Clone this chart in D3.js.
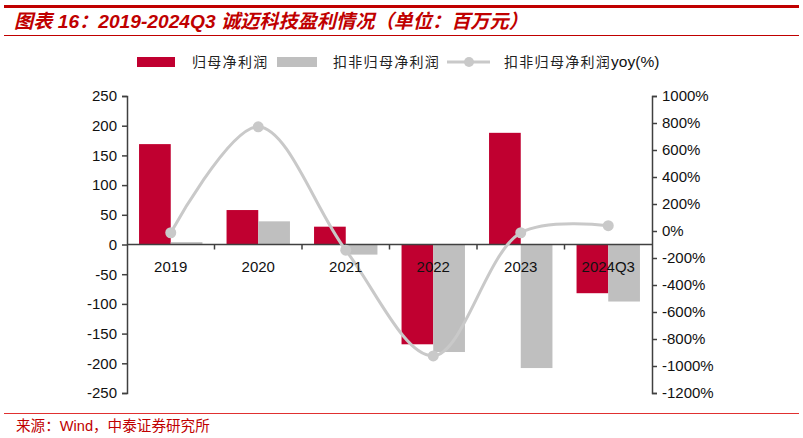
<!DOCTYPE html>
<html><head><meta charset="utf-8">
<script src="https://cdn.jsdelivr.net/npm/d3@7"></script>
<style>
html,body{margin:0;padding:0;background:#fff;}
svg{display:block;}
</style></head>
<body>
<svg id="c" width="803" height="438"></svg>
<script>
const categories = ["2019","2020","2021","2022","2023","2024Q3"];
const netProfit = [169, 58, 30, -168, 188, -82];
const deductedProfit = [4, 39, -17, -181, -208, -96];
const deductedYoy = [-13, 772, -142, -925, -13, 39];
const leftTicks = [250,200,150,100,50,0,-50,-100,-150,-200,-250];
const rightTicks = [1000,800,600,400,200,0,-200,-400,-600,-800,-1000,-1200];
const seriesNames = ["归母净利润","扣非归母净利润","扣非归母净利润yoy(%)"];
const titleText = "图表 16：2019-2024Q3 诚迈科技盈利情况（单位：百万元）";
const sourceText = "来源：Wind，中泰证券研究所";

const RED = "#c00030", GRAY = "#bfbfbf", LINE = "#c9c9c9", AXIS = "#404040", HEAD = "#c00000";
const svg = d3.select("#c");
const L = 127, R = 652, T = 96, B = 393;

const x = d3.scaleBand().domain(categories).range([L, R]).padding(0);
const inner = d3.scaleBand().domain(["a","b"]).range([0, x.bandwidth()]).paddingInner(0).paddingOuter(0.38);
const yL = d3.scaleLinear().domain([-250, 250]).range([B, T]);
const yR = d3.scaleLinear().domain([-1200, 1000]).range([B, T]);

// header lines
svg.append("rect").attr("x",4).attr("y",5).attr("width",795).attr("height",3).attr("fill",HEAD);
svg.append("line").attr("x1",4).attr("x2",799).attr("y1",35.5).attr("y2",35.5).attr("stroke",HEAD).attr("stroke-width",1);
svg.append("text").attr("x",14).attr("y",28)
  .attr("font-family","'Liberation Sans', Arial, 'Noto Sans CJK SC'")
  .attr("font-weight","bold").attr("font-style","italic").attr("font-size",19.2)
  .attr("fill",HEAD).text(titleText);

// footer
svg.append("line").attr("x1",4).attr("x2",799).attr("y1",413.5).attr("y2",413.5).attr("stroke","#e03030").attr("stroke-width",1.2);
svg.append("text").attr("x",16).attr("y",431)
  .attr("font-family","'Liberation Sans', Arial, 'Noto Sans CJK SC'")
  .attr("font-size",14.6).attr("fill",HEAD).text(sourceText);

// bars
const g = svg.append("g");
g.selectAll(".r").data(categories).join("rect")
  .attr("x", d => x(d) + inner("a")).attr("width", inner.bandwidth())
  .attr("y", (d,i) => yL(Math.max(0, netProfit[i])))
  .attr("height", (d,i) => Math.abs(yL(netProfit[i]) - yL(0)))
  .attr("fill", RED);
g.selectAll(".g").data(categories).join("rect")
  .attr("x", d => x(d) + inner("b")).attr("width", inner.bandwidth())
  .attr("y", (d,i) => yL(Math.max(0, deductedProfit[i])))
  .attr("height", (d,i) => Math.abs(yL(deductedProfit[i]) - yL(0)))
  .attr("fill", GRAY);

// axes
const font = "'Liberation Sans', Arial, sans-serif";
const axL = svg.append("g").attr("transform",`translate(${L},0)`)
  .call(d3.axisLeft(yL).tickValues(leftTicks).tickSize(5).tickPadding(5).tickFormat(d => String(d)));
const axR = svg.append("g").attr("transform",`translate(${R},0)`)
  .call(d3.axisRight(yR).tickValues(rightTicks).tickSize(5).tickPadding(5).tickFormat(d => String(d) + "%"));
[axL, axR].forEach(a => {
  a.select(".domain").attr("stroke", AXIS).attr("stroke-width",1.5);
  a.selectAll(".tick line").attr("stroke", AXIS).attr("stroke-width",1.5);
  a.selectAll("text").attr("font-family", font).attr("font-size",15).attr("fill","#111");
});

// zero line + category ticks
const zero = yL(0);
svg.append("line").attr("x1",L).attr("x2",R).attr("y1",zero).attr("y2",zero).attr("stroke",AXIS).attr("stroke-width",1.5);
svg.selectAll(".ct").data(categories.slice(1)).join("line")
  .attr("x1", d => x(d)).attr("x2", d => x(d)).attr("y1", zero).attr("y2", zero + 5)
  .attr("stroke", AXIS).attr("stroke-width",1.5);

// line
const pts = categories.map((c,i) => [x(c) + x.bandwidth()/2, yR(deductedYoy[i])]);
svg.append("path").attr("d", d3.line().curve(d3.curveCatmullRom.alpha(0.5))(pts))
  .attr("fill","none").attr("stroke",LINE).attr("stroke-width",3);
svg.selectAll(".dot").data(pts).join("circle")
  .attr("cx", d => d[0]).attr("cy", d => d[1]).attr("r",5.5).attr("fill",LINE);

// category labels
svg.selectAll(".cl").data(categories).join("text")
  .attr("x", d => x(d) + x.bandwidth()/2).attr("y", zero + 27)
  .attr("text-anchor","middle").attr("font-family",font).attr("font-size",15).attr("fill","#111")
  .text(d => d);

// legend
const lg = svg.append("g");
const lf = "'Noto Sans CJK SC', sans-serif";
lg.append("rect").attr("x",137).attr("y",57).attr("width",38).attr("height",10).attr("fill",RED);
lg.append("text").attr("x",192).attr("y",67).attr("font-family",lf).attr("font-size",14).attr("letter-spacing",1.3).attr("fill","#222").text(seriesNames[0]);
lg.append("rect").attr("x",277).attr("y",57).attr("width",40).attr("height",10).attr("fill",GRAY);
lg.append("text").attr("x",333).attr("y",67).attr("font-family",lf).attr("font-size",14).attr("letter-spacing",1.3).attr("fill","#222").text(seriesNames[1]);
lg.append("line").attr("x1",447).attr("x2",490).attr("y1",62).attr("y2",62).attr("stroke",LINE).attr("stroke-width",3);
lg.append("circle").attr("cx",469).attr("cy",62).attr("r",5).attr("fill",LINE);
const t3 = lg.append("text").attr("x",504).attr("y",67).attr("font-family",lf).attr("font-size",14).attr("letter-spacing",1.3).attr("fill","#222");
t3.append("tspan").text("扣非归母净利润");
t3.append("tspan").attr("font-family",font).attr("font-size",15.5).attr("letter-spacing",0).attr("fill","#111").text("yoy(%)");
</script>
</body></html>
